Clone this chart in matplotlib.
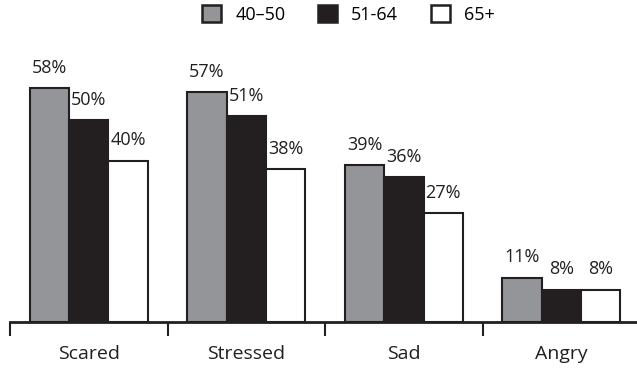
import numpy as np
from matplotlib import pyplot as plt
from matplotlib.patches import Patch

plt.rcParams['font.family'] = ['Open Sans', 'DejaVu Sans']

emotions = ["Scared", "Stressed", "Sad", "Angry"]
age_groups = ["40\u201350", "51-64", "65+"]
vals_40_50 = [58, 57, 39, 11]
vals_51_64 = [50, 51, 36, 8]
vals_65 = [40, 38, 27, 8]

colors = ["#939598", "#231f20", "#ffffff"]
series = [vals_40_50, vals_51_64, vals_65]

fig = plt.figure(figsize=(6.37, 3.69), dpi=100)
ax = fig.add_axes([10 / 637, 47 / 369, 627 / 637, 262 / 369])

x = np.arange(len(emotions))
w = 0.25
for k, (vals, col) in enumerate(zip(series, colors)):
    pos = x + (k - 1) * w
    ax.bar(pos, vals, width=w, color=col, edgecolor="#231f20", linewidth=1.5)
    for p, v in zip(pos, vals):
        ax.text(p, v + 2.8, "%d%%" % v, ha="center", va="bottom", fontsize=13, color="#231f20")

ax.set_xlim(-0.5, 3.48)
ax.set_ylim(0, 65)
for s in ["top", "right", "left"]:
    ax.spines[s].set_visible(False)
ax.spines["bottom"].set_linewidth(2)
ax.spines["bottom"].set_color("#231f20")
ax.set_yticks([])

# group boundaries get tick marks, names sit between them
ax.set_xticks(x - 0.5)
ax.set_xticklabels([])
ax.tick_params(axis="x", length=10, width=1.5, color="#231f20", direction="out")
for xi, name in zip(x, emotions):
    ax.text(xi, -5.8, name, ha="center", va="top", fontsize=14, color="#231f20")

handles = [Patch(facecolor=c, edgecolor="#231f20", linewidth=1.8) for c in colors]
fig.legend(handles, age_groups, loc="upper center", bbox_to_anchor=(0.547, 1.03), ncol=3,
           frameon=False, fontsize=13, handlelength=1.05, handleheight=1.05,
           columnspacing=1.8, handletextpad=0.8)

fig.savefig("out.png", dpi=100)
